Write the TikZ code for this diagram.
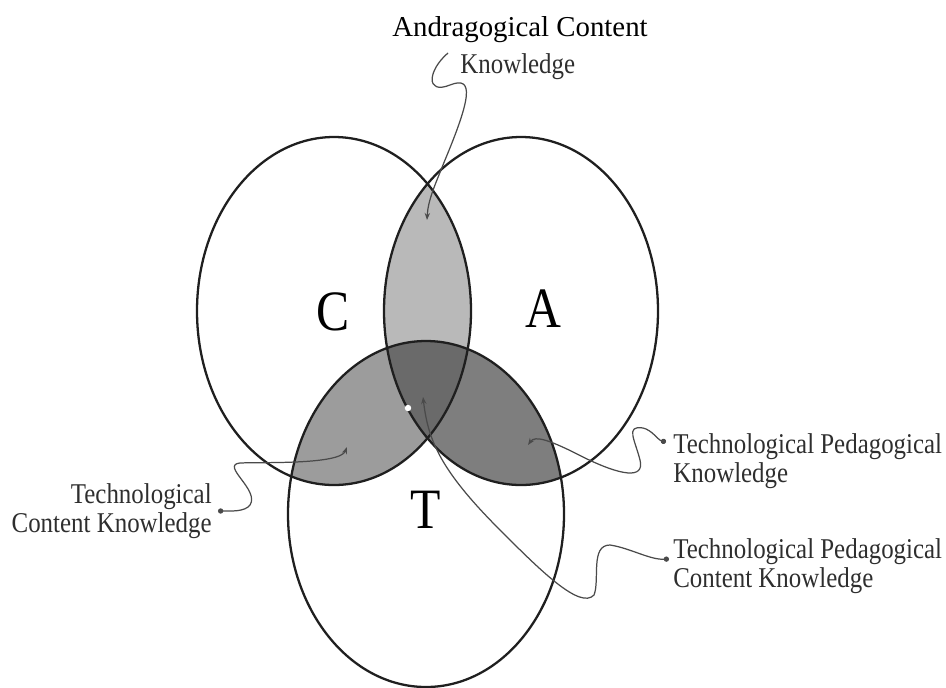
\documentclass[tikz,border=0pt]{standalone}
\usepackage{fontspec}
\setmainfont{Liberation Serif}
\newfontfamily\lblfont[FakeStretch=0.87]{Liberation Serif}
\usepackage{tikz}
\usetikzlibrary{arrows.meta,positioning,calc}
\definecolor{lensfill}{HTML}{B9B9B9}
\definecolor{ctfill}{HTML}{9C9C9C}
\definecolor{atfill}{HTML}{7E7E7E}
\definecolor{corefill}{HTML}{6A6A6A}
\definecolor{leadgray}{HTML}{4A4A4A}
\newcommand{\ellC}{(334,311) ellipse [x radius=137, y radius=174]}
\newcommand{\ellA}{(521,311) ellipse [x radius=137, y radius=174]}
\newcommand{\ellT}{(426,514) ellipse [x radius=138, y radius=173]}

\begin{document}
\begin{tikzpicture}[x=0.02cm, y=-0.02cm,
  venn/.style={draw=black!88, line width=1.3pt},
  lbl/.style={inner sep=0pt, font=\lblfont\fontsize{16.3}{16.6}\selectfont, text=black!82},
  title/.style={inner sep=0pt, font=\fontsize{16.4}{18}\selectfont, text=black},
  big/.style={inner sep=0pt, font=\lblfont\fontsize{32.5}{34}\selectfont},
  lead/.style={draw=leadgray, line width=0.7pt, {Stealth[length=4pt,width=3pt]}-{Circle[length=3pt]}},
  leadtop/.style={draw=leadgray, line width=0.7pt, {Stealth[length=4pt,width=3pt]}-}
]
  \useasboundingbox (0,0) rectangle (946,687);

  \begin{scope}
    \clip \ellC;
    \fill[lensfill] \ellA;
  \end{scope}
  \begin{scope}
    \clip \ellC;
    \fill[ctfill] \ellT;
  \end{scope}
  \begin{scope}
    \clip \ellA;
    \fill[atfill] \ellT;
  \end{scope}
  \begin{scope}
    \clip \ellC;
    \clip \ellA;
    \fill[corefill] \ellT;
  \end{scope}

  \draw[venn] \ellC;
  \draw[venn] \ellA;
  \draw[venn] \ellT;

  \node[big, anchor=base] (setC) at (333,330) {C};
  \node[big, anchor=base] (setA) at (543,327) {A};
  \node[big, anchor=base] (setT) at (426,528) {T};
  \node[circle, fill=white, inner sep=1.3pt] (spot) at (408,408) {};

  \node[title, anchor=base] (acktitle) at (520,36) {Andragogical Content};
  \node[lbl, anchor=base west] (ackknow) at (460,73) {Knowledge};
  \node[lbl, align=left, anchor=north west] (tpk) at (673,433) {Technological Pedagogical\\Knowledge};
  \node[lbl, align=left, anchor=north west] (tpck) at (673,538) {Technological Pedagogical\\Content Knowledge};
  \node[lbl, align=right, anchor=north east] (tck) at (212,483) {Technological\\Content Knowledge};

  \coordinate (ackin) at (427,220);
  \coordinate (ackout) at (448,53);
  \coordinate (tckin) at (347,447);
  \coordinate (tckout) at (218,511);
  \coordinate (tpkin) at (528,445);
  \coordinate (tpkout) at (666,442);
  \coordinate (tpckin) at (423,397);
  \coordinate (tpckout) at (669,559);

  \draw[leadtop] (ackin) .. controls (428,200) and (435,185) .. (445,160) .. controls (470,100) and (475,75) .. (450,85) .. controls (425,95) and (428,70) .. (ackout);
  \draw[lead] (tckin) .. controls (340,465) and (260,462) .. (240,463) .. controls (220,465) and (260,490) .. (250,505) .. controls (245,512) and (230,511) .. (tckout);
  \draw[lead] (tpkin) .. controls (535,435) and (550,440) .. (585,458) .. controls (620,475) and (645,480) .. (640,460) .. controls (635,440) and (625,425) .. (643,428) .. controls (652,430) and (658,440) .. (tpkout);
  \draw[lead] (tpckin) .. controls (428,440) and (440,470) .. (500,530) .. controls (540,570) and (580,610) .. (594,595) .. controls (600,580) and (590,545) .. (610,545) .. controls (630,548) and (650,560) .. (tpckout);
\end{tikzpicture}
\end{document}
